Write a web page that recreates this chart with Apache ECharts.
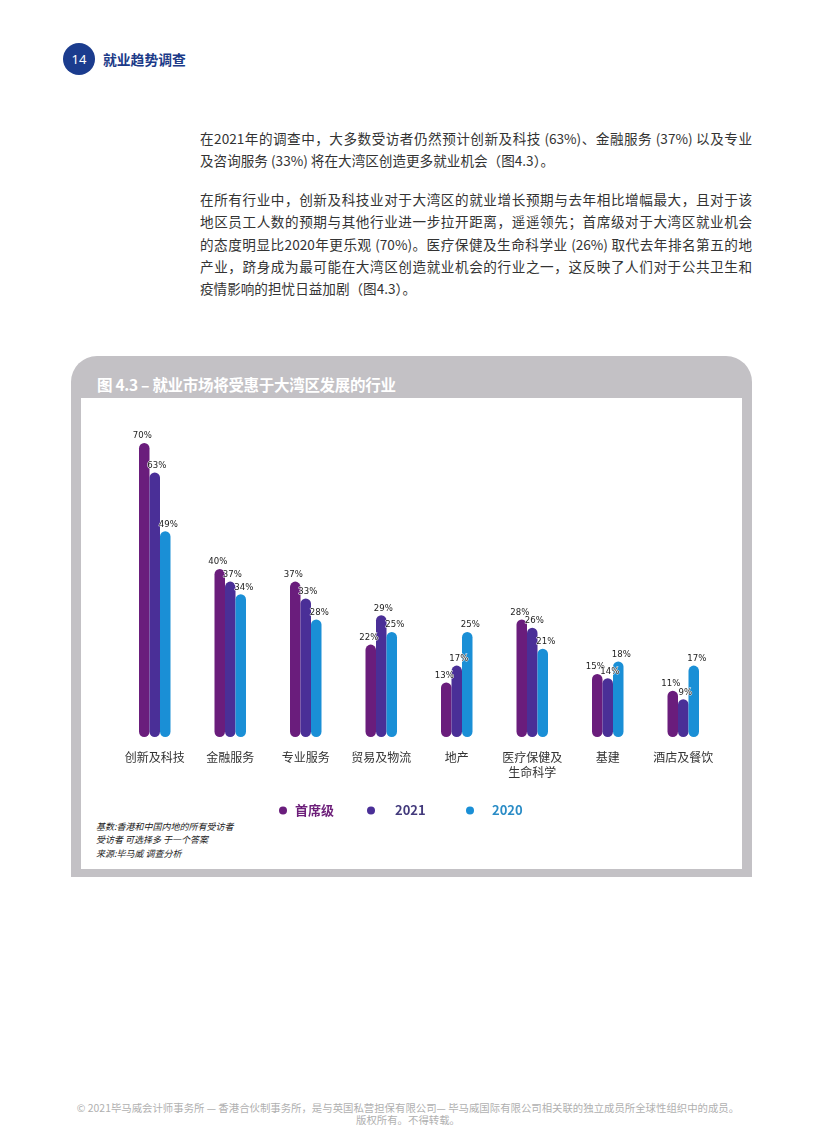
<!DOCTYPE html>
<html><head><meta charset="utf-8">
<script src="https://cdn.jsdelivr.net/npm/echarts@6/dist/echarts.min.js"></script>
<style>
html,body{margin:0;padding:0;background:#fff;}
body{width:816px;height:1145px;position:relative;overflow:hidden;font-family:"Noto Sans CJK SC","Noto Sans",sans-serif;}
.abs{position:absolute;}
.circle{left:63px;top:43px;width:32px;height:32px;border-radius:50%;background:#1b3c8e;color:#fff;font:13px "Noto Sans",sans-serif;line-height:32px;text-align:center;}
.htitle{left:103px;top:49px;font-size:13.8px;font-weight:bold;color:#1b3a88;line-height:20px;}
.line{left:200px;width:552px;font-size:13.6px;color:#333;line-height:20px;white-space:nowrap;}
.j{text-align:justify;text-align-last:justify;white-space:normal;}
.panel{left:71px;top:356px;width:681px;height:521px;background:#c3c1c5;border-radius:26px 26px 0 0;}
.inner{left:81px;top:398px;width:661px;height:471px;background:#fff;}
.ptitle{left:97px;top:373px;color:#fff;font-size:15.5px;font-weight:bold;line-height:22px;letter-spacing:-0.3px;}
.note{left:96px;font-size:9px;font-style:italic;color:#222;line-height:12px;}
.foot{left:0;width:816px;text-align:center;font-size:10.4px;color:#b0b0b0;line-height:12px;}
#chart{position:absolute;left:0;top:0;width:816px;height:1145px;}
</style></head>
<body>
<div class="abs circle">14</div>
<div class="abs htitle">就业趋势调查</div>

<div class="abs line j" style="top:128px;">在2021年的调查中，大多数受访者仍然预计创新及科技 (63%)、金融服务 (37%) 以及专业</div>
<div class="abs line" style="top:150px;">及咨询服务 (33%) 将在大湾区创造更多就业机会（图4.3）。</div>
<div class="abs line j" style="top:189px;">在所有行业中，创新及科技业对于大湾区的就业增长预期与去年相比增幅最大，且对于该</div>
<div class="abs line j" style="top:211px;">地区员工人数的预期与其他行业进一步拉开距离，遥遥领先；首席级对于大湾区就业机会</div>
<div class="abs line j" style="top:234px;">的态度明显比2020年更乐观 (70%)。医疗保健及生命科学业 (26%) 取代去年排名第五的地</div>
<div class="abs line j" style="top:256px;">产业，跻身成为最可能在大湾区创造就业机会的行业之一，这反映了人们对于公共卫生和</div>
<div class="abs line" style="top:278px;">疫情影响的担忧日益加剧（图4.3）。</div>

<div class="abs panel"></div>
<div class="abs inner"></div>
<div class="abs ptitle">图 4.3 – 就业市场将受惠于大湾区发展的行业</div>
<div class="abs note" style="top:821px;">基数:香港和中国内地的所有受访者</div>
<div class="abs note" style="top:834px;">受访者 可选择多 于一个答案</div>
<div class="abs note" style="top:848px;">来源:毕马威 调查分析</div>

<div class="abs foot" style="top:1102px;">© 2021毕马威会计师事务所 — 香港合伙制事务所，是与英国私营担保有限公司— 毕马威国际有限公司相关联的独立成员所全球性组织中的成员。</div>
<div class="abs foot" style="top:1114px;">版权所有。不得转载。</div>

<div id="chart"></div>
<script>
const categories = ['创新及科技','金融服务','专业服务','贸易及物流','地产','医疗保健及\n生命科学','基建','酒店及餐饮'];
const seriesNames = ['首席级','2021','2020'];
const ceoValues = [70,40,37,22,13,28,15,11];
const values2021 = [63,37,33,29,17,26,14,9];
const values2020 = [49,34,28,25,25,21,18,17];

const barColors = ['#6a1d7c','#4a2f97','#1a8fd6'];
const legendTextColors = ['#6d1f7a','#433a7c','#2a8cc6'];
const dataSets = [ceoValues, values2021, values2020];

const chart = echarts.init(document.getElementById('chart'), null, {renderer:'canvas'});
const labelFont = '"Liberation Sans Narrow","DejaVu Sans Condensed","Liberation Sans",sans-serif';
const labelOffsets = [[-2,0],[2,0],[3,0]];

const series = dataSets.map((d,i)=>({
  name: seriesNames[i],
  type:'bar',
  data:d,
  barWidth:10.5,
  barGap:'0%',
  itemStyle:{color:barColors[i], borderRadius:5.25},
  label:{show:true, position:'top', distance:2, offset:labelOffsets[i], formatter:'{c}%', fontSize:9.5, color:'#222',
    fontFamily:labelFont, textBorderColor:'#fff', textBorderWidth:1},
  emphasis:{disabled:true}
}));

const legendPos = [{left:279, pad:3},{left:367, pad:15},{left:466, pad:13}];
const legends = seriesNames.map((n,i)=>({
  left:legendPos[i].left, top:804, padding:0,
  icon:'circle', itemWidth:8, itemHeight:8,
  selectedMode:false,
  data:[{name:n, itemStyle:{color:barColors[i]}, textStyle:{color:legendTextColors[i]}}],
  textStyle:{fontSize:13, fontWeight:'bold', fontFamily:'"Noto Sans CJK SC","Liberation Sans",sans-serif', padding:[0,0,0,legendPos[i].pad]}
}));

chart.setOption({
  animation:false,
  backgroundColor:'transparent',
  legend:legends,
  grid:{left:117, width:604, top:443, bottom:408, containLabel:false},
  xAxis:{type:'category', data:categories,
    axisLine:{show:false}, axisTick:{show:false},
    axisLabel:{fontSize:12, color:'#333', margin:13, lineHeight:15, interval:0,
      fontFamily:'"Noto Sans CJK SC",sans-serif'}},
  yAxis:{type:'value', min:0, max:70, show:false, splitLine:{show:false}},
  series:series
});
</script>
</body></html>
